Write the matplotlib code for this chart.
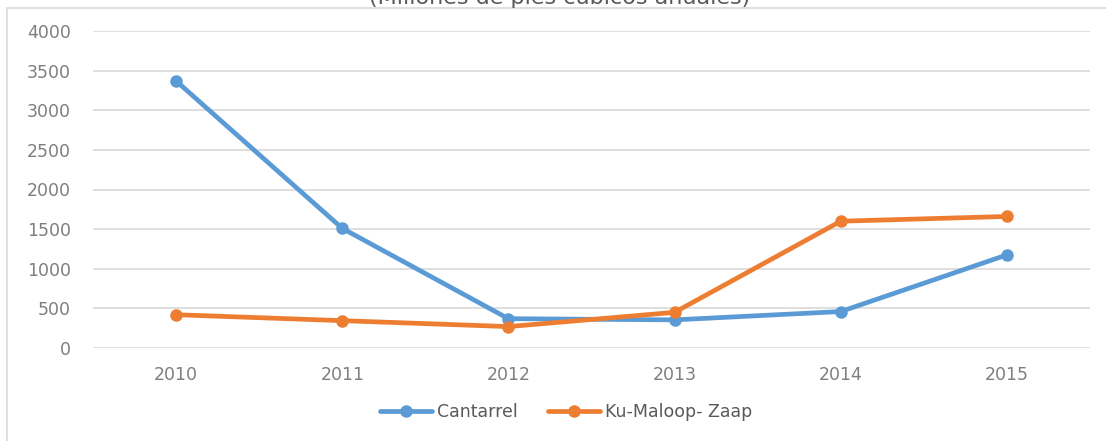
import matplotlib
matplotlib.use("Agg")
import matplotlib.pyplot as plt
from matplotlib.patches import Rectangle
import numpy as np

years = ["2010", "2011", "2012", "2013", "2014", "2015"]
cantarrel = [3370, 1510, 370, 355, 460, 1175]
ku_maloop_zaap = [420, 345, 270, 450, 1600, 1660]

blue = "#5B9BD5"
orange = "#ED7D31"
text_gray = "#7F7F7F"
grid_gray = "#D9D9D9"

plt.rcParams['font.family'] = ['DejaVu Sans']

fig = plt.figure(figsize=(11.06, 4.41), dpi=100)
ax = fig.add_axes([93 / 1106, 1 - 348 / 441, (1090 - 93) / 1106, (348 - 31) / 441])

x = np.arange(len(years))
ax.plot(x, cantarrel, color=blue, lw=3.4, marker='o', ms=8, label="Cantarrel",
        solid_capstyle='round', zorder=3)
ax.plot(x, ku_maloop_zaap, color=orange, lw=3.4, marker='o', ms=8, label="Ku-Maloop- Zaap",
        solid_capstyle='round', zorder=3)

ax.set_xlim(-0.5, len(years) - 0.5)
ax.set_ylim(0, 4000)
ax.set_yticks(np.arange(0, 4001, 500))
ax.set_xticks(x)
ax.set_xticklabels(years)
ax.grid(axis='y', color=grid_gray, lw=1.2)
ax.set_axisbelow(True)
for s in ax.spines.values():
    s.set_visible(False)
ax.tick_params(axis='both', length=0, labelsize=12.5, colors=text_gray)
ax.tick_params(axis='y', pad=16)
ax.tick_params(axis='x', pad=13)

leg = fig.legend(loc='center', bbox_to_anchor=(566 / 1106, 1 - 412 / 441), ncol=2,
                 frameon=False, fontsize=12.5, handlelength=3.0, handletextpad=0.3,
                 columnspacing=1.7)
for t in leg.get_texts():
    t.set_color("#595959")

# chart title, cut off by the top edge as in the source image
fig.text(560 / 1106, 1 - 4 / 441, "(Millones de pies cúbicos anuales)", ha='center',
         va='baseline', fontsize=16, color="#595959")

# chart border (right side runs off the picture)
fig.patches.append(Rectangle((7 / 1106, -0.05), 1.1, 1.05 - 8 / 441, transform=fig.transFigure,
                             fill=False, edgecolor=grid_gray, lw=1.2))

plt.savefig("out.png", dpi=100)
